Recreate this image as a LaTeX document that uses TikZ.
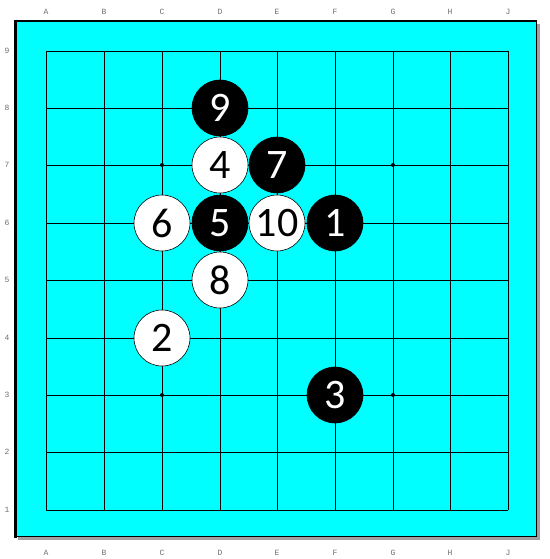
\documentclass[tikz,border=0pt]{standalone}
\usepackage{fontspec}
\newfontfamily\stonefont{Carlito}
\newfontfamily\labfont{Liberation Mono}
\definecolor{boardcyan}{RGB}{0,255,255}
\definecolor{shadowgray}{RGB}{160,160,160}
\definecolor{labgray}{RGB}{110,110,110}
\begin{document}
\begin{tikzpicture}[x=1pt,y=-1pt,
  bstone/.style={circle,fill=black,draw=black,line width=0.6pt,minimum size=56pt,inner sep=0pt,text=white,font=\stonefont\fontsize{42}{42}\selectfont},
  wstone/.style={circle,fill=white,draw=black,line width=0.6pt,minimum size=56pt,inner sep=0pt,text=black,font=\stonefont\fontsize{42}{42}\selectfont},
  coordlab/.style={text=labgray,font=\labfont\fontsize{8}{8}\selectfont,inner sep=0pt},
  hoshi/.style={circle,fill=black,minimum size=4pt,inner sep=0pt}]
\useasboundingbox (0,0) rectangle (549,559);
% shadow
\fill[shadowgray] (18,24) rectangle (540,540);
% board
\fill[boardcyan] (15,21) rectangle (537,537);
\draw[line width=1.5pt] (15,21) rectangle (536.5,536.5);
\draw[line width=3pt] (15.5,20) -- (15.5,538);
\draw[line width=1pt] (14,21.5) -- (537,21.5);
% grid
\def\xs{{46,104,162,220,277,335,393,450,508}}
\def\ys{{51,108,165,223,280,338,395,452,510}}
\foreach \i in {0,...,8}{
  \pgfmathsetmacro\xx{\xs[\i]}
  \pgfmathsetmacro\yy{\ys[\i]}
  \draw[line width=0.8pt] (\xx,51) -- (\xx,510);
  \draw[line width=0.8pt] (46,\yy) -- (508,\yy);
}
% labels
\foreach \l [count=\i from 0] in {A,B,C,D,E,F,G,H,J}{
  \pgfmathsetmacro\xx{\xs[\i]}
  \node[coordlab] (t\l) at (\xx,12) {\l};
  \node[coordlab] (b\l) at (\xx,553) {\l};
}
\foreach \r [count=\i from 0] in {9,8,7,6,5,4,3,2,1}{
  \pgfmathsetmacro\yy{\ys[\i]}
  \node[coordlab] (r\r) at (7,\yy) {\r};
}
% hoshi
\node[hoshi] (h1) at (162,165) {};
\node[hoshi] (h2) at (393,165) {};
\node[hoshi] (h3) at (162,395) {};
\node[hoshi] (h4) at (393,395) {};
% stones
\node[bstone] (s9) at (220,108) {9};
\node[wstone] (s4) at (220,165) {4};
\node[bstone] (s7) at (277,165) {7};
\node[wstone] (s6) at (162,223) {6};
\node[bstone] (s5) at (220,223) {5};
\node[wstone] (s10) at (277,223) {10};
\node[bstone] (s1) at (335,223) {1};
\node[wstone] (s8) at (220,280) {8};
\node[wstone] (s2) at (162,338) {2};
\node[bstone] (s3) at (335,395) {3};
\end{tikzpicture}
\end{document}
